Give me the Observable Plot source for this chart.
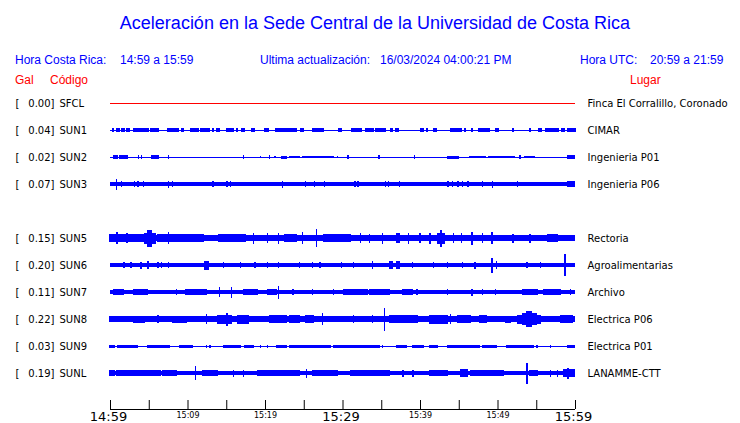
<!DOCTYPE html>
<html>
<head>
<meta charset="utf-8">
<script src="https://cdn.jsdelivr.net/npm/d3@7"></script>
<script src="https://cdn.jsdelivr.net/npm/@observablehq/plot@0.6"></script>
<style>
  body { margin: 0; background: #fff; }
  #hdr { position: relative; width: 740px; height: 90px; font-family: "Liberation Sans", Arial, sans-serif; }
  #hdr span { position: absolute; white-space: pre; line-height: 1; }
  .blue { color: #0000ff; }
  .red { color: #ff0000; }
</style>
</head>
<body>
<div id="hdr"></div>
<div id="chart"></div>
<script>
// ---------- data ----------
const title = "Aceleración en la Sede Central de la Universidad de Costa Rica";
const headerLabels = ["Hora Costa Rica:", "Ultima actualización:", "Hora UTC:"];
const headerValues = ["14:59 a 15:59", "16/03/2024 04:00:21 PM", "20:59 a 21:59"];
const columnHeads = ["Gal", "Código", "Lugar"];

// stations in display order (SUN4 slot is empty in the reference)
const codes  = ["SFCL", "SUN1", "SUN2", "SUN3", "SUN4", "SUN5", "SUN6", "SUN7", "SUN8", "SUN9", "SUNL"];
const galMax = ["0.00", "0.04", "0.02", "0.07", null, "0.15", "0.20", "0.11", "0.22", "0.03", "0.19"];
const places = ["Finca El Corralillo, Coronado", "CIMAR", "Ingenieria P01", "Ingenieria P06", null,
                "Rectoria", "Agroalimentarias", "Archivo", "Electrica P06", "Electrica P01", "LANAMME-CTT"];
// background noise level of each trace (relative amplitude units)
const baseAmp = [0, 0.5, 0.5, 2.2, null, 3.3, 1.8, 1.8, 2.8, 0.5, 2.3];

// bursts: [start minute, end minute, amplitude]  (minutes after 14:59)
const sun1 = [[0.3,0.5,1.8],[0.9,1.2,1.8],[1.5,1.8,1.8],[2.2,2.5,1.8],[3.1,4.9,1.6],[5.3,6.2,1.6],[7.4,8.3,1.6],[8.5,8.8,1.8],
  [9.3,9.5,1.8],[10.4,11.4,1.6],[11.7,12.8,1.6],[13.2,13.4,1.8],[13.8,14.1,1.8],[15.0,15.9,1.6],[16.3,16.5,1.8],[17.0,17.3,1.8],
  [18.3,18.6,1.8],[19.9,20.5,1.6],[21.4,23.6,1.6],[23.7,24.0,1.8],[24.6,24.9,1.8],[26.1,27.5,1.6],[29.5,29.8,1.8],[31.2,32.5,1.6],
  [33.0,34.0,1.6],[34.3,35.5,1.6],[36.2,36.5,1.8],[36.9,37.2,1.8],[40.1,40.4,1.8],[40.8,41.0,1.8],[41.8,42.1,1.8],[44.0,45.3,1.6],
  [45.7,45.9,1.8],[46.6,46.8,1.8],[47.6,48.9,1.6],[49.8,50.1,1.8],[51.9,52.1,1.8],[54.1,54.3,1.8],[55.3,55.6,1.8],[56.2,57.8,1.6],
  [58.3,58.6,1.8],[59.0,60.0,1.6]];
const sun2 = [[0.4,0.9,1.6],[1.3,2.3,1.6],[3.7,3.7,1.6],[4.1,4.1,1.6],[5.4,6.2,1.6],[7.5,7.5,1.6],[17.2,17.2,1.6],[19.4,19.4,1.3],
  [20.6,20.6,1.6],[21.3,21.3,1.3],[22.2,22.8,1.5],[23.2,24.5,1.4],[24.9,27.1,1.4],[27.3,28.8,1.4],[29.4,29.4,1.3],[30.7,30.7,1.6],
  [34.7,34.7,1.6],[39.3,39.3,1.6],[43.6,44.9,1.5],[46.4,48.4,1.4],[48.8,52.2,1.4],[52.9,52.9,1.6],[53.5,54.8,1.4],[59.1,59.9,1.6]];
const sun3 = [[0.8,0.8,5.5],[1.5,1.5,3],[3.2,3.2,3],[3.6,3.6,3],[4.3,4.3,3],[7.5,7.5,3.5],[8.1,8.1,3],[13.3,13.3,3],
  [15.1,15.1,3],[15.5,15.5,3],[22.3,22.3,3.5],[25.2,25.2,3],[26.4,26.4,3],[27.7,27.7,3],[31.6,31.6,3],[32.0,32.0,3],
  [35.5,35.5,3],[35.9,35.9,3],[37.4,37.4,3],[43.6,43.6,3],[44.2,44.2,3],[44.9,44.9,3],[45.5,45.5,3],[46.2,46.2,3],
  [48.1,48.1,3],[49.4,49.4,3.5],[52.6,52.6,3],[59.0,59.9,3.2]];
const sun5 = [[0,4.4,4],[0.9,0.9,6],[2.2,2.2,5],[4.4,4.8,5.5],[4.8,5.3,8.5],[5.3,5.8,5.5],[6.2,12,4],[7.5,7.5,6],[14,17.5,4],
  [18.5,18.5,5.5],[20.3,20.3,5],[21.7,21.7,5.5],[22.5,24,4],[24.8,24.8,6],[26.6,26.6,9],[27.5,31,4],[32.3,32.3,5],
  [33.5,33.5,4.5],[35.2,35.2,5.5],[37,37.4,5],[38.5,38.5,5.5],[40,40,5],[41.3,41.3,5.5],[42.3,43.2,5.5],[42.7,42.7,8.5],
  [44.3,44.3,5],[45.4,45.4,5],[46.7,46.7,6.5],[48.1,48.1,5],[49.3,49.3,6],[52,52,4.5],[54.2,54.2,4.5],[56.4,57.7,4.2]];
const sun6 = [[1.8,1.8,3],[2.7,2.7,3],[4.0,4.0,3.5],[4.9,4.9,4],[6.2,6.2,3],[6.6,6.6,3],[7.5,7.5,3],[12.2,12.7,4.5],
  [14.6,14.6,3],[16.8,16.8,3],[18.7,18.7,3],[20.3,20.3,3],[21.7,21.7,3],[24.5,24.5,3],[26.1,26.1,3],[27.1,27.1,3],
  [29.9,29.9,3],[31.4,31.4,3],[33.9,33.9,4],[36.1,36.5,4],[37.0,37.4,4],[39.0,39.0,3],[41.7,41.7,3],[43.5,43.5,3],
  [45.5,45.5,3],[47.1,47.1,3.5],[49.3,49.3,7.5],[49.9,49.9,4],[53.8,53.8,3],[55.5,55.5,3],[58.7,58.7,11]];
const sun7 = [[0.4,1.7,2.7],[3.0,4.8,2.7],[8.6,8.6,3],[9.7,12.5,2.7],[14.1,14.1,5],[15.7,15.7,5.5],[17.2,19.0,2.7],
  [20.3,21.5,3],[21.7,21.7,6.5],[23.6,23.6,3],[26.1,26.1,3],[28.8,28.8,3],[30.1,33.2,2.7],[33.5,36.1,2.7],[37.8,39.0,3],
  [39.6,39.6,3],[43.5,43.5,3],[46.7,46.7,3.5],[48.1,48.1,3],[49.7,49.7,3],[53.3,55.1,2.7],[55.9,58.1,3],[59.4,59.4,3]];
const sun8 = [[0,0.9,3.2],[3.0,4.5,3.5],[6.2,6.2,4],[8.1,9.9,3.5],[12.5,12.5,5],[13.9,15.7,4.5],[15.1,15.1,6.5],
  [16.5,17.8,4.5],[20.6,22.8,3.8],[23.2,24.5,4],[25.2,26.2,3.8],[27.4,27.4,6],[31.4,31.4,4],[33.9,33.9,4],[35.4,35.4,11.5],
  [36.1,39.6,4],[41.3,43.5,4.5],[43.9,43.9,5],[44.8,46.5,4],[47.7,48.6,3.8],[51,51.6,3.5],[52.6,53.3,4.5],[53.3,53.8,6],
  [53.8,54.4,8],[54.4,55.0,6],[55.0,55.5,4.5],[58.1,59.7,3.8]];
const sun9 = [[0,0.6,1.5],[1.0,3.5,1.5],[4.9,7.7,1.5],[9.0,10.6,1.5],[12.5,12.5,1.5],[12.9,12.9,1.5],[14.6,16.8,1.5],
  [17.4,18.5,1.5],[19.4,19.4,1.5],[20.3,20.3,1.5],[21.5,22.8,1.5],[23.2,28.4,1.5],[28.8,33.5,1.5],[33.5,34.8,1.5],
  [35.2,35.2,1.5],[37.0,38.3,1.5],[39.1,40.4,1.5],[41.3,42.2,1.5],[43.5,47.7,1.5],[48.1,49.9,1.5],[51.2,54.6,1.5],
  [55.1,55.1,1.5],[56.8,56.8,1.5],[59.0,59.9,1.5]];
const sunl = [[0,0.6,3.2],[0.9,6.5,3.2],[6.8,8.6,2.8],[11,11,7],[12,13.8,3.2],[15.9,15.9,3.5],[17.2,17.2,3.5],[19,24.5,2.8],
  [25.4,25.4,4.5],[26.2,29.3,3.2],[31,33.5,2.8],[33.5,36.1,3.2],[37.8,37.8,3.5],[39.1,39.1,3.5],[41.3,43.5,2.8],
  [45.2,46.1,3.8],[46.5,50.7,2.8],[53.8,53.8,10.5],[54.2,55.1,3.2],[56.8,56.8,3.5],[57.7,57.7,3.5],[58.5,59.9,3.6],[59.1,59.1,5.5]];
const bursts = {SUN1: sun1, SUN2: sun2, SUN3: sun3, SUN5: sun5, SUN6: sun6, SUN7: sun7, SUN8: sun8, SUN9: sun9, SUNL: sunl};

// time axis
const tickMinutes = [0, 5, 10, 15, 20, 25, 30, 35, 40, 45, 50, 55, 60];
const majorTicks = [0, 30, 60];
const majorLabels = ["14:59", "15:29", "15:59"];
const minorTicks = [10, 20, 40, 50];
const minorLabels = ["15:09", "15:19", "15:39", "15:49"];

// ---------- header ----------
const hdr = document.getElementById("hdr");
function span(txt, cls, left, top, size, extra) {
  const s = document.createElement("span");
  s.textContent = txt; s.className = cls;
  s.style.left = left + "px"; s.style.top = top + "px"; s.style.fontSize = size + "px";
  if (extra) Object.assign(s.style, extra);
  hdr.appendChild(s);
}
span(title, "blue", 0, 14, 18, {width: "750px", textAlign: "center"});
span(headerLabels[0], "blue", 15, 54, 12);
span(headerValues[0], "blue", 120, 54, 12);
span(headerLabels[1], "blue", 260, 54, 12);
span(headerValues[1], "blue", 380, 54, 12);
span(headerLabels[2], "blue", 580, 54, 12);
span(headerValues[2], "blue", 650, 54, 12);
span(columnHeads[0], "red", 15, 74, 12);
span(columnHeads[1], "red", 50, 74, 12);
span(columnHeads[2], "red", 630, 74, 12);

// ---------- chart ----------
const rows = codes.map((code, i) => ({code, gal: galMax[i], place: places[i], base: baseAmp[i], row: i}))
  .filter(d => d.gal !== null);
const U = 1 / 27;           // amplitude unit -> row units
const axisRow = 306 / 27;   // time axis sits below the last trace
const tickLen = 9 / 27;

const bands = rows.filter(d => d.base > 0)
  .map(d => ({x1: 0, x2: 60, y1: d.row - d.base * U, y2: d.row + d.base * U}));
const burstData = [];
rows.forEach(r => (bursts[r.code] || []).forEach(([t1, t2, a]) =>
  burstData.push({x1: t1, x2: t2, y1: r.row - a * U, y2: r.row + a * U})));

const blue = "#0000ff";
const font = "DejaVu Sans, sans-serif";

const chart = Plot.plot({
  width: 740,
  height: 333,
  marginLeft: 110,
  marginRight: 165,
  marginTop: 13,
  marginBottom: 14,
  style: {background: "#fff", overflow: "visible", fontFamily: font},
  x: {domain: [0, 60], axis: null},
  y: {domain: [0, axisRow], reverse: true, axis: null},
  marks: [
    Plot.ruleY(rows.filter(d => d.base === 0), {y: "row", x1: 0, x2: 60, stroke: "#ff0000", strokeWidth: 1}),
    Plot.rect(bands, {x1: "x1", x2: "x2", y1: "y1", y2: "y2", fill: blue, shapeRendering: "crispEdges"}),
    Plot.rect(burstData, {x1: "x1", x2: "x2", y1: "y1", y2: "y2", fill: blue,
      insetLeft: -0.6, insetRight: -0.6, shapeRendering: "crispEdges"}),
    // left labels
    Plot.text(rows, {y: "row", text: () => "[", frameAnchor: "left", dx: -95, textAnchor: "start", fontSize: 10, fill: "black"}),
    Plot.text(rows, {y: "row", text: d => d.gal + "]", frameAnchor: "left", dx: -56, textAnchor: "end", fontSize: 10, fill: "black"}),
    Plot.text(rows, {y: "row", text: "code", frameAnchor: "left", dx: -51, textAnchor: "start", fontSize: 10, fill: "black"}),
    // right labels
    Plot.text(rows, {y: "row", text: "place", frameAnchor: "right", dx: 12, textAnchor: "start", fontSize: 10, fill: "black"}),
    // time axis
    Plot.ruleY([axisRow], {x1: 0, x2: 60, stroke: "black", strokeWidth: 1}),
    Plot.ruleX(tickMinutes, {x: d => d, y1: axisRow - tickLen, y2: axisRow, stroke: "black", strokeWidth: 1}),
    Plot.text(majorTicks, {x: d => d, y: axisRow, text: (d, i) => majorLabels[i], dy: 7, dx: -2, fontSize: 13, fill: "black"}),
    Plot.text(minorTicks, {x: d => d, y: axisRow, text: (d, i) => minorLabels[i], dy: 6, fontSize: 8, fill: "black"})
  ]
});
document.getElementById("chart").appendChild(chart);
</script>
</body>
</html>
